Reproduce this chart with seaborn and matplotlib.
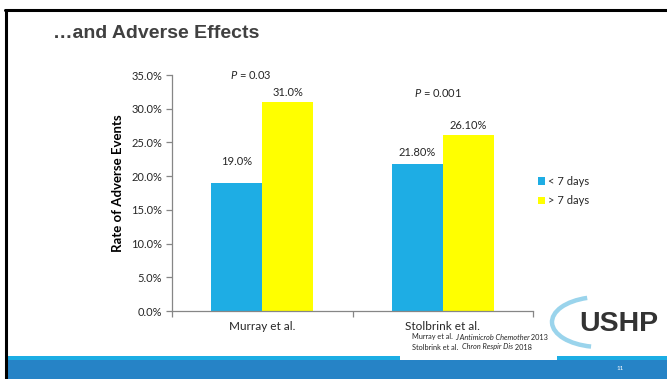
import matplotlib
matplotlib.use("Agg")
import matplotlib.pyplot as plt
from matplotlib.patches import Rectangle, Arc
from matplotlib.lines import Line2D
from matplotlib.ticker import FuncFormatter, FixedLocator
from matplotlib.transforms import IdentityTransform
import seaborn as sns
import pandas as pd

# Data
studies = ["Murray et al.", "Stolbrink et al."]
durations = ["< 7 days", "> 7 days"]
short_course = [19.0, 21.8]
long_course = [31.0, 26.1]
short_labels = ["19.0%", "21.80%"]
long_labels = ["31.0%", "26.10%"]
p_values = ["0.03", "0.001"]
refs = [("Murray et al. ", "J Antimicrob Chemother", " 2013"),
        ("Stolbrink et al.  ", "Chron Respir Dis", " 2018")]

BLUE = "#1EADE4"
YELLOW = "#FFFF00"
GRID = "#868686"
TEXT = "#262626"

sns.set_theme(style="white")
plt.rcParams["font.family"] = ["Lato", "DejaVu Sans"]
plt.rcParams["mathtext.fontset"] = "custom"
plt.rcParams["mathtext.rm"] = "Lato"
plt.rcParams["mathtext.it"] = "Lato:italic"

df = pd.DataFrame({
    "study": studies * 2,
    "duration": [durations[0]] * 2 + [durations[1]] * 2,
    "rate": short_course + long_course,
})

W, H = 667, 379
fig = plt.figure(figsize=(W / 100, H / 100), dpi=100)
fig.patch.set_facecolor("white")


def fx(px):
    return px / W


def fy(py):
    return 1 - py / H


ax = fig.add_axes([fx(172), fy(311), fx(533) - fx(172), fy(75) - fy(311)])
sns.barplot(data=df, x="study", y="rate", hue="duration", hue_order=durations,
            palette=[BLUE, YELLOW], width=0.565, saturation=1, ax=ax,
            edgecolor="none", linewidth=0)

ax.set_ylim(0, 35)
ax.set_xlim(-0.5, 1.5)
ax.yaxis.set_major_locator(FixedLocator([0, 5, 10, 15, 20, 25, 30, 35]))
ax.yaxis.set_major_formatter(FuncFormatter(lambda v, _: f"{v:.1f}%"))
ax.set_xlabel("")
ax.set_ylabel("")
for side in ["top", "right"]:
    ax.spines[side].set_visible(False)
for side in ["left", "bottom"]:
    ax.spines[side].set_color(GRID)
    ax.spines[side].set_linewidth(0.9)

ax.tick_params(axis="y", which="major", direction="out", length=4, width=0.9,
               color=GRID, labelsize=8, labelcolor=TEXT, pad=3, left=True)
ax.tick_params(axis="x", which="major", length=0, labelsize=8.5,
               labelcolor=TEXT, pad=7)
ax.xaxis.set_minor_locator(FixedLocator([-0.5, 0.5, 1.5]))
ax.tick_params(axis="x", which="minor", direction="out", length=4, width=0.9,
               color=GRID, bottom=True)

# value labels above bars
short_off = [21, 12]
long_off = [9, 10]
for cont, labels, offs in [(ax.containers[0], short_labels, short_off),
                           (ax.containers[1], long_labels, long_off)]:
    for bar, lab, off in zip(cont, labels, offs):
        ax.annotate(lab, (bar.get_x() + bar.get_width() / 2, bar.get_height()),
                    xytext=(0, off * 0.72), textcoords="offset points",
                    ha="center", va="center", fontsize=8, color=TEXT)

# significance labels
ax.text(-0.062, 35.0, f"$P$ = {p_values[0]}", ha="center", va="center",
        fontsize=8, color=TEXT, clip_on=False)
ax.text(0.974, 32.3, f"$P$ = {p_values[1]}", ha="center", va="center",
        fontsize=8, color=TEXT, clip_on=False)

# legend
ax.legend(loc="center left", bbox_to_anchor=(fx(528), fy(191)),
          bbox_transform=fig.transFigure, frameon=False, fontsize=8,
          handlelength=0.65, handleheight=0.65, handletextpad=0.25,
          labelspacing=0.75, labelcolor=TEXT)

# axis title
fig.text(fx(118), fy(183), "Rate of Adverse Events", rotation=90,
         ha="center", va="center", fontsize=9.5, fontweight="bold", color="black")

# slide title
fig.text(fx(53), fy(33), "\u2026and Adverse Effects", ha="left", va="center",
         fontsize=14, fontweight="bold", color="#404040",
         family=["Liberation Sans", "DejaVu Sans"])

# references
for (a, b, c), py in zip(refs, [337, 347]):
    t1 = fig.text(fx(412), fy(py), a, ha="left", va="center", fontsize=5.3,
                  color=TEXT)
    t2 = ax.annotate(b, xy=(1, 0), xycoords=t1, ha="left", va="bottom",
                     fontsize=5.3, color=TEXT, style="italic",
                     annotation_clip=False)
    ax.annotate(c, xy=(1, 0), xycoords=t2, ha="left", va="bottom",
                fontsize=5.3, color=TEXT, annotation_clip=False)

# slide frame
fig.add_artist(Line2D([fx(5.5), fx(5.5)], [0, fy(9.5)], color="black", lw=2.2))
fig.add_artist(Line2D([fx(4.5), 1], [fy(9.8), fy(9.8)], color="black", lw=2.2))

# footer band
fig.add_artist(Rectangle((fx(7), 0), 1, fy(360), transform=fig.transFigure,
                         facecolor="#2683C6", edgecolor="none"))
fig.add_artist(Rectangle((fx(7), fy(360)), 1, fy(356) - fy(360),
                         transform=fig.transFigure, facecolor="#1CADE4",
                         edgecolor="none"))
fig.add_artist(Rectangle((fx(400), fy(360)), fx(557) - fx(400), fy(356) - fy(360),
                         transform=fig.transFigure, facecolor="white",
                         edgecolor="none"))
fig.text(fx(620), fy(368), "11", ha="center", va="center", fontsize=4.5,
         color="white")

# logo: crescent swoosh and lettering (pixel coordinates)
fig.add_artist(Arc((600, H - 322), 96, 50, theta1=118, theta2=250,
                   transform=IdentityTransform(), color="#9AD4EC", lw=3.2))
fig.text(fx(619), fy(324), "USHP", ha="center", va="center", fontsize=20.5,
         fontweight="heavy", color="#333333",
         family=["Liberation Sans", "DejaVu Sans"])

fig.savefig("out.png", dpi=100, facecolor="white")
